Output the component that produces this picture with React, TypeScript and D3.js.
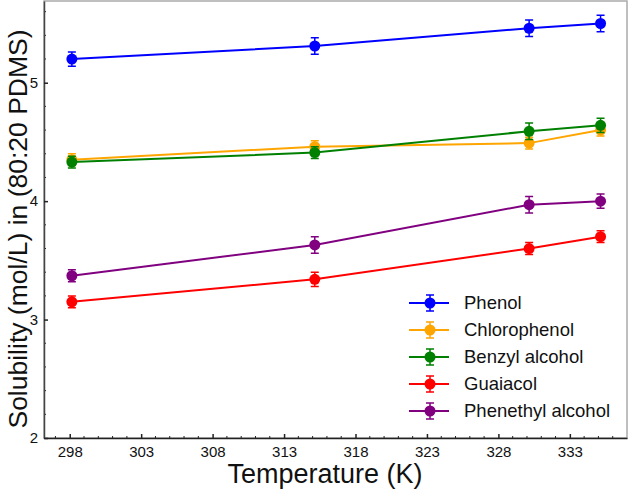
import React, { useEffect, useRef } from 'react';
import * as d3 from 'd3';

// temperatures (K) of the measurements
const temps = [298.15, 315.15, 330.15, 335.15];

const seriesNames = ['Phenol', 'Chlorophenol', 'Benzyl alcohol', 'Guaiacol', 'Phenethyl alcohol'];
const seriesColors = ['#0000ff', '#ffa500', '#008000', '#ff0000', '#800080'];

// solubility (mol/L) per series
const phenol = [5.2, 5.31, 5.46, 5.5];
const chlorophenol = [4.35, 4.46, 4.49, 4.6];
const benzylAlcohol = [4.33, 4.41, 4.59, 4.64];
const guaiacol = [3.15, 3.34, 3.6, 3.7];
const phenethylAlcohol = [3.37, 3.63, 3.97, 4.0];

// error bar half-widths
const phenolErr = [0.06, 0.07, 0.07, 0.07];
const chlorophenolErr = [0.05, 0.05, 0.05, 0.05];
const benzylAlcoholErr = [0.05, 0.05, 0.07, 0.06];
const guaiacolErr = [0.05, 0.06, 0.05, 0.05];
const phenethylAlcoholErr = [0.05, 0.07, 0.07, 0.06];

const xTicks = [298, 303, 308, 313, 318, 323, 328, 333];
const yTicks = [2, 3, 4, 5];

const values = [phenol, chlorophenol, benzylAlcohol, guaiacol, phenethylAlcohol];
const errors = [phenolErr, chlorophenolErr, benzylAlcoholErr, guaiacolErr, phenethylAlcoholErr];

const W = 632;
const H = 490;

const App: React.FC = () => {
    const svgRef = useRef<SVGSVGElement>(null);

    useEffect(() => {
        if (!svgRef.current) return;
        const svg = d3.select(svgRef.current);
        svg.selectAll('*').remove();

        const margin = { top: 1, right: 5, bottom: 52, left: 44 };
        const innerW = W - margin.left - margin.right;
        const innerH = H - margin.top - margin.bottom;
        const font = '"Liberation Sans", Arial, Helvetica, sans-serif';

        const x = d3.scaleLinear().domain([296.2, 337.0]).range([0, innerW]);
        const y = d3.scaleLinear().domain([2, 5.69]).range([innerH, 0]);

        const g = svg.append('g').attr('transform', `translate(${margin.left},${margin.top})`);

        // frame
        g.append('rect')
            .attr('width', innerW)
            .attr('height', innerH)
            .attr('fill', 'none')
            .attr('stroke', '#aaa')
            .attr('stroke-width', 1.5);

        // minor ticks
        const xMinor = d3.range(297, 337, 1).filter(v => !xTicks.includes(v));
        const yMinor = d3.range(2, 5.7, 0.2).filter(v => Math.abs(v - Math.round(v)) > 0.01);

        g.append('g')
            .selectAll('line')
            .data(xMinor)
            .enter()
            .append('line')
            .attr('x1', d => x(d)).attr('x2', d => x(d))
            .attr('y1', innerH).attr('y2', innerH - 2)
            .attr('stroke', '#222').attr('stroke-width', 1);

        g.append('g')
            .selectAll('line')
            .data(yMinor)
            .enter()
            .append('line')
            .attr('x1', 0).attr('x2', 2)
            .attr('y1', d => y(d)).attr('y2', d => y(d))
            .attr('stroke', '#222').attr('stroke-width', 1);

        // x axis
        const xAxis = g.append('g')
            .attr('transform', `translate(0,${innerH})`)
            .call(d3.axisBottom(x).tickValues(xTicks).tickFormat(d3.format('d')).tickSizeInner(-4).tickSizeOuter(0).tickPadding(8));
        xAxis.select('.domain').attr('stroke', '#222').attr('stroke-width', 1.5);
        xAxis.selectAll('.tick line').attr('stroke', '#222').attr('stroke-width', 1.5);
        xAxis.selectAll('text').attr('font-family', font).attr('font-size', 15).attr('fill', '#111');

        // y axis
        const yAxis = g.append('g')
            .call(d3.axisLeft(y).tickValues(yTicks).tickFormat(d3.format('d')).tickSizeInner(-4).tickSizeOuter(0).tickPadding(6));
        yAxis.select('.domain').attr('stroke', '#444').attr('stroke-width', 1.5);
        yAxis.selectAll('.tick line').attr('stroke', '#222').attr('stroke-width', 1.5);
        yAxis.selectAll('text').attr('font-family', font).attr('font-size', 15).attr('fill', '#111');

        // axis titles
        svg.append('text')
            .attr('x', 325)
            .attr('y', 483)
            .attr('text-anchor', 'middle')
            .attr('font-family', font)
            .attr('font-size', 27)
            .attr('fill', '#111')
            .text('Temperature (K)');

        svg.append('text')
            .attr('transform', `translate(27,229) rotate(-90)`)
            .attr('text-anchor', 'middle')
            .attr('font-family', font)
            .attr('font-size', 26.5)
            .attr('fill', '#111')
            .text('Solubility (mol/L) in (80:20 PDMS)');

        const line = d3.line<number>()
            .x((_, i) => x(temps[i]))
            .y(d => y(d));

        // series
        values.forEach((vals, si) => {
            const color = seriesColors[si];
            const errs = errors[si];
            const sg = g.append('g');

            sg.append('path')
                .datum(vals)
                .attr('d', line)
                .attr('fill', 'none')
                .attr('stroke', color)
                .attr('stroke-width', 2);

            const pts = vals.map((v, i) => ({ t: temps[i], v, e: errs[i] }));

            sg.selectAll('.eb')
                .data(pts)
                .enter()
                .append('path')
                .attr('class', 'eb')
                .attr('d', d => {
                    const cx = x(d.t);
                    const y0 = y(d.v - d.e);
                    const y1 = y(d.v + d.e);
                    return `M${cx},${y0}V${y1}M${cx - 4},${y0}H${cx + 4}M${cx - 4},${y1}H${cx + 4}`;
                })
                .attr('fill', 'none')
                .attr('stroke', color)
                .attr('stroke-width', 1.5);

            sg.selectAll('circle')
                .data(pts)
                .enter()
                .append('circle')
                .attr('cx', d => x(d.t))
                .attr('cy', d => y(d.v))
                .attr('r', 5.5)
                .attr('fill', color);
        });

        // legend
        const legend = svg.append('g').attr('transform', 'translate(409,303)');
        seriesNames.forEach((name, i) => {
            const color = seriesColors[i];
            const row = legend.append('g').attr('transform', `translate(0,${i * 27})`);
            row.append('line')
                .attr('x1', 0).attr('x2', 40)
                .attr('y1', 0).attr('y2', 0)
                .attr('stroke', color).attr('stroke-width', 2);
            row.append('path')
                .attr('d', 'M21,-8V8M17,-8H25M17,8H25')
                .attr('stroke', color).attr('stroke-width', 1.5).attr('fill', 'none');
            row.append('circle')
                .attr('cx', 21).attr('cy', 0).attr('r', 5.5).attr('fill', color);
            row.append('text')
                .attr('x', 55).attr('y', 0)
                .attr('dy', '0.35em')
                .attr('font-family', font)
                .attr('font-size', 18.5)
                .attr('fill', '#111')
                .text(name);
        });
    }, []);

    return <svg ref={svgRef} width={W} height={H} style={{ display: 'block', position: 'absolute', left: 0, top: 0 }} />;
};

export default App;
